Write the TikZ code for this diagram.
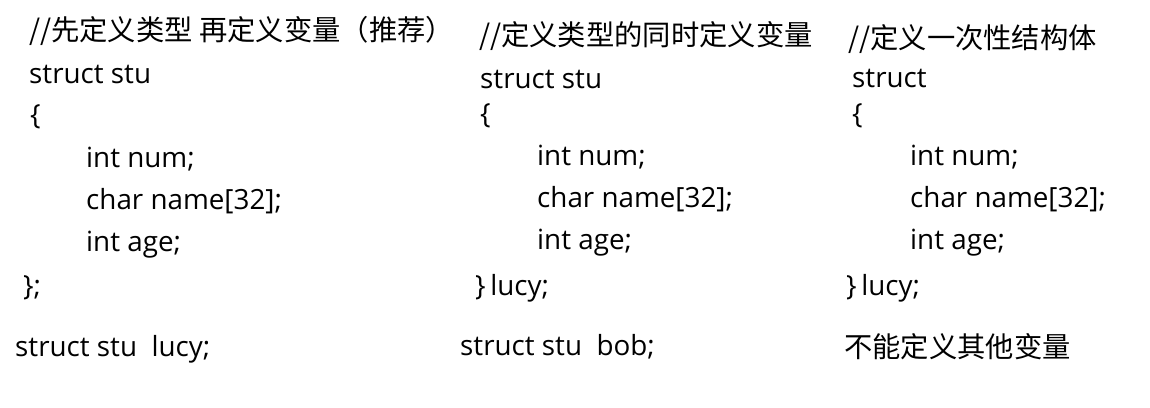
\documentclass[tikz,border=0pt]{standalone}
\usepackage{fontspec}
\setmainfont{Open Sans}
\newfontfamily\cjk{Noto Sans CJK SC}
\usetikzlibrary{positioning}

\tikzset{
    code/.style={anchor=base west, inner sep=0pt, font=\fontsize{27.8}{30}\selectfont},
    note/.style={code, font=\cjk\fontsize{28.3}{30}\selectfont}
}

\begin{document}
\begin{tikzpicture}[x=1pt, y=-1pt]

            \useasboundingbox (0,0) rectangle (1150,407);

            % define type first, then the variable
            \node[note] (A0) at (29,40) {//先定义类型 再定义变量（推荐）};
            \node[code] (A1) at (29,83) {struct stu};
            \node[code] (A2) at (30,124) {\{};
            \node[code] (A6) at (23,295) {\};};
            \node[code] (A7) at (15,356) {struct stu~~lucy;};

            % type and variable together
            \node[note] (B0) at (479,45) {//定义类型的同时定义变量};
            \node[code] (B1) at (480,88) {struct stu};
            \node[code] (B2) at (480,123) {\{};
            \node[code] (B6) at (475,295) {\}\,lucy;};
            \node[code] (B7) at (460,355) {struct stu~~bob;};

            % one-off struct
            \node[note] (C0) at (848,48) {//定义一次性结构体};
            \node[code] (C1) at (852,87) {struct};
            \node[code] (C2) at (852,123) {\{};
            \node[code] (C6) at (846,295) {\}\,lucy;};
            \node[note] (C7) at (844,357) {不能定义其他变量};

            % members
            \foreach \col/\x/\y in {A/86/167, B/537/165, C/910/165}{
                \node[code] (\col3) at (\x,\y) {int num;};
                \node[code] (\col4) at (\x,\y+42) {char name[32];};
                \node[code] (\col5) at (\x,\y+84) {int age;};
            }

        \end{tikzpicture}
\end{document}
